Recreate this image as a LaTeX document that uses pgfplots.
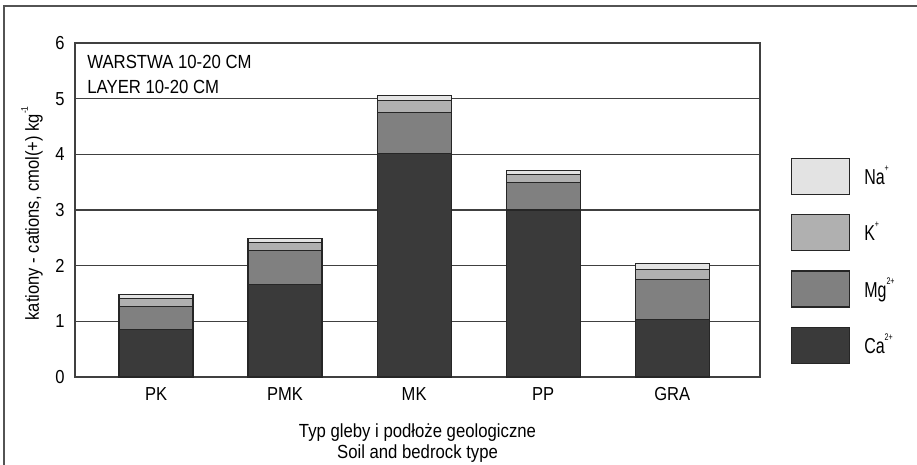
\documentclass[border=0pt]{standalone}
\usepackage{fontspec}
\setmainfont[FakeStretch=0.88]{Liberation Sans}
\newfontfamily\legfont[FakeStretch=0.74]{Liberation Sans}
\usepackage{pgfplots}
\pgfplotsset{compat=1.18}

\definecolor{caC}{HTML}{3A3A3A}
\definecolor{mgC}{HTML}{808080}
\definecolor{kC}{HTML}{B0B0B0}
\definecolor{naC}{HTML}{E3E3E3}
\definecolor{lineC}{HTML}{404040}

% tiny superscripts as in the original
\newcommand{\sups}[1]{\raisebox{0.58em}{\fontsize{4.8bp}{5bp}\selectfont #1}}

\begin{document}
\begin{tikzpicture}
\useasboundingbox (0,0) rectangle (458.5bp,232.5bp);
% outer frame (only left and top edges are visible)
\draw[color=lineC!90, line width=0.6bp] (2bp,-5bp) -- (2bp,229.5bp) -- (465bp,229.5bp);

\begin{axis}[
    at={(37.5bp,44bp)}, anchor=south west,
    scale only axis,
    width=342.5bp, height=167bp,
    ybar stacked,
    bar width=37bp,
    xmin=-0.628, xmax=4.68,
    ymin=0, ymax=6,
    xtick={0,1,2,3,4},
    xticklabels={PK,PMK,MK,PP,GRA},
    ytick={0,1,2,3,4,5,6},
    major tick length=0pt,
    ymajorgrids=true,
    grid style={color=lineC, line width=0.7bp},
    axis line style={color=lineC, line width=0.7bp},
    /pgf/number format/assume math mode=true,
    ticklabel style={font=\fontsize{9.4bp}{10bp}\selectfont, inner sep=0pt},
    y tick label style={anchor=east, xshift=-5bp},
    x tick label style={anchor=north, yshift=-5bp},
    xlabel={Typ gleby i podłoże geologiczne\\Soil and bedrock type},
    xlabel style={font=\fontsize{9.5bp}{10.5bp}\selectfont, align=center,
        at={(axis description cs:0.5,0)}, anchor=north, yshift=-20bp},
    ylabel={kationy - cations, cmol(+) kg\sups{-1}},
    ylabel style={font=\fontsize{9.4bp}{10bp}\selectfont,
        at={(axis description cs:-0.0628,0.49)}, anchor=center},
    legend image code/.code={\draw[#1] (0bp,-9bp) rectangle (29bp,9bp);},
    reverse legend,
    legend cell align=left,
    legend style={draw=none, fill=none, inner sep=0pt, outer sep=0pt,
        at={(1.0448,0.6557)}, anchor=north west,
        row sep=9.5bp, column sep=7.2bp,
        nodes={inner sep=0pt},
        font=\legfont\fontsize{10.8bp}{12bp}\selectfont},
    every axis plot/.append style={draw=black!85, line width=0.6bp},
]
\addplot[fill=caC] coordinates {(0,0.85) (1,1.66) (2,4.01) (3,3.00) (4,1.03)};
\addlegendentry{Ca\sups{2+}}
\addplot[fill=mgC] coordinates {(0,0.41) (1,0.61) (2,0.74) (3,0.50) (4,0.72)};
\addlegendentry{Mg\sups{2+}}
\addplot[fill=kC] coordinates {(0,0.15) (1,0.15) (2,0.22) (3,0.14) (4,0.18)};
\addlegendentry{K\sups{+}}
\addplot[fill=naC] coordinates {(0,0.07) (1,0.07) (2,0.08) (3,0.07) (4,0.11)};
\addlegendentry{Na\sups{+}}
\end{axis}

\node[anchor=base west, inner sep=0pt, font=\fontsize{9.5bp}{11bp}\selectfont] at (43.5bp,198.15bp) {WARSTWA 10-20 CM};
\node[anchor=base west, inner sep=0pt, font=\fontsize{9.5bp}{11bp}\selectfont] at (43.5bp,185.85bp) {LAYER 10-20 CM};
\end{tikzpicture}
\end{document}
